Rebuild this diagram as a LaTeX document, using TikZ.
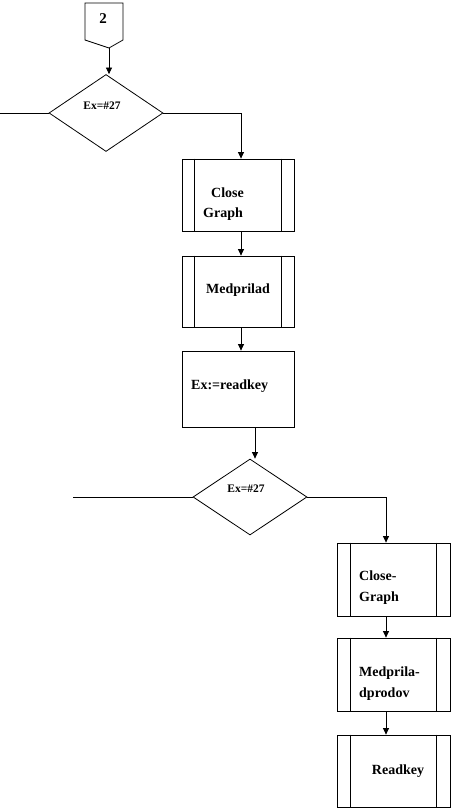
\documentclass[tikz,border=0pt]{standalone}
\usepackage{fontspec}
\setmainfont{Liberation Serif}
\usetikzlibrary{shapes.geometric,arrows.meta,calc}
\tikzset{
  ln/.style={line width=0.8pt},
  arr/.style={ln,-{Triangle[length=6.5pt,width=6pt]}},
  proc/.style={draw,ln,rectangle,minimum width=#1,inner sep=0pt},
  decis/.style={draw,ln,diamond,minimum width=114pt,minimum height=77pt,inner sep=0pt},
  txt/.style={font=\bfseries\fontsize{14}{16}\selectfont,inner sep=0pt},
  dtxt/.style={font=\bfseries\fontsize{11.5}{13}\selectfont,inner sep=0pt},
}
\newcommand{\sidebars}[2]{%
  \draw[ln] ([xshift=#2]#1.north west) -- ([xshift=#2]#1.south west);
  \draw[ln] ([xshift=-#2]#1.north east) -- ([xshift=-#2]#1.south east);}
\begin{document}
\begin{tikzpicture}[x=1pt,y=-1pt]
\useasboundingbox (0,0) rectangle (453,810);
% off-page connector
\draw[ln] (85,3) -- (123,3) -- (123,40) -- (109,48) -- (85,40) -- cycle;
\coordinate (c2pt) at (109,48);
\node[txt,font=\bfseries\fontsize{15}{17}\selectfont] (c2) at (103,19) {2};
% decision 1
\node[decis] (d1) at (106,113) {};
\node[dtxt] (d1t) at (102,106) {Ex=\#27};
\coordinate (d1l) at (0,113);
% processes, upper chain
\node[proc=112pt,minimum height=72pt] (b1) at (238,195) {};
\sidebars{b1}{13pt}
\node[txt,anchor=west] (b1a) at (211,193) {Close};
\node[txt,anchor=west] (b1b) at (203,214) {Graph};
\node[proc=112pt,minimum height=71pt] (b2) at (238,291.5) {};
\sidebars{b2}{13pt}
\node[txt] (b2a) at (238,290) {Medprilad};
\node[proc=112pt,minimum height=76pt] (b3) at (238,389) {};
\node[txt,anchor=west] (b3a) at (191,386) {Ex:=readkey};
% decision 2
\node[decis,minimum height=76pt] (d2) at (250,497) {};
\node[dtxt] (d2t) at (246,489) {Ex=\#27};
\coordinate (d2l) at (73,497);
% processes, lower chain
\node[proc=113pt,minimum height=73pt] (b4) at (393.5,579.5) {};
\sidebars{b4}{14pt}
\node[txt,anchor=west] (b4a) at (359,576) {Close-};
\node[txt,anchor=west] (b4b) at (359,598) {Graph};
\node[proc=113pt,minimum height=73pt] (b5) at (393.5,674.5) {};
\sidebars{b5}{14pt}
\node[txt,anchor=west] (b5a) at (359,673) {Medprila-};
\node[txt,anchor=west] (b5b) at (359,694) {dprodov};
\node[proc=113pt,minimum height=72pt] (b6) at (393.5,771) {};
\sidebars{b6}{14pt}
\node[txt] (b6a) at (398,771) {Readkey};
% connectors
\draw[arr] (c2pt) -- (c2pt |- d1.north);
\draw[ln] (d1.west) -- (d1l);
\coordinate (b1in) at ($(b1.north)+(3,0)$);
\draw[arr] (d1.east) -| (b1in);
\draw[arr] ($(b1.south)+(3,0)$) -- ($(b2.north)+(3,0)$);
\draw[arr] ($(b2.south)+(3,0)$) -- ($(b3.north)+(3,0)$);
\coordinate (b3out) at ($(b3.south)+(17,0)$);
\draw[arr] (b3out) -- (b3out |- d2.north);
\draw[ln] (d2.west) -- (d2l);
\coordinate (b4in) at ($(b4.north)+(-7.5,0)$);
\draw[arr] (d2.east) -| (b4in);
\draw[arr] ($(b4.south)+(-7.5,0)$) -- ($(b5.north)+(-7.5,0)$);
\draw[arr] ($(b5.south)+(-7.5,0)$) -- ($(b6.north)+(-7.5,0)$);
\end{tikzpicture}
\end{document}
